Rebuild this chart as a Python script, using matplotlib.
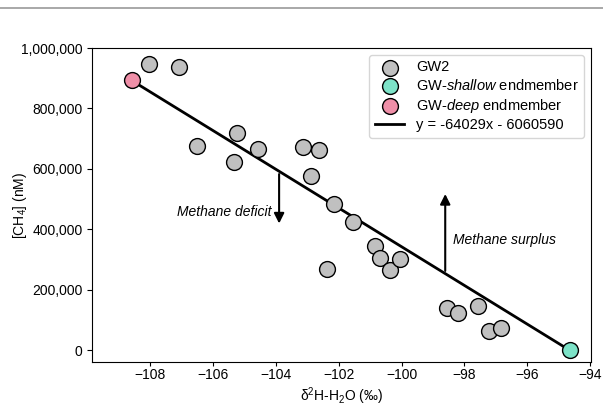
import matplotlib
matplotlib.use('Agg')
import matplotlib.pyplot as plt
from matplotlib.lines import Line2D
from matplotlib.ticker import FuncFormatter

plt.rcParams['font.family'] = ['Liberation Sans', 'DejaVu Sans']
plt.rcParams['font.size'] = 10
plt.rcParams['mathtext.fontset'] = 'custom'
plt.rcParams['mathtext.rm'] = 'Liberation Sans'
plt.rcParams['mathtext.it'] = 'Liberation Sans:italic'

# GW2 samples
gw2_d2h = [-108.03, -107.08, -106.50, -105.23, -105.33, -104.56, -103.13, -102.62,
           -102.88, -102.15, -101.54, -102.37, -100.84, -100.68, -100.37, -100.05,
           -98.55, -98.20, -97.56, -97.21, -96.83]
gw2_ch4 = [947000, 937000, 675000, 718000, 622000, 666000, 672000, 662000,
           576000, 483000, 424000, 268000, 344000, 305000, 265000, 301000,
           139000, 123000, 146000, 63000, 73000]

# endmembers
shallow_d2h, shallow_ch4 = [-94.65], [0]
deep_d2h, deep_ch4 = [-108.6], [893000]

slope, intercept = -64029, -6060590
fit_x = [deep_d2h[0], shallow_d2h[0]]
fit_y = [slope * v + intercept for v in fit_x]

fig, ax = plt.subplots(figsize=(6.03, 4.07), dpi=100)
fig.subplots_adjust(left=0.153, right=0.980, top=0.882, bottom=0.110)

ax.plot(fit_x, fit_y, color='black', lw=2, zorder=2, label='y = -64029x - 6060590')
ax.scatter(gw2_d2h, gw2_ch4, s=130, color='#c0c0c0', edgecolor='black', lw=1, zorder=3, label='GW2')
ax.scatter(shallow_d2h, shallow_ch4, s=130, color='#7de3c8', edgecolor='black', lw=1, zorder=3,
           label='GW-$\\it{shallow}$ endmember')
ax.scatter(deep_d2h, deep_ch4, s=130, color='#ef8fa8', edgecolor='black', lw=1, zorder=3,
           label='GW-$\\it{deep}$ endmember')

# deficit / surplus arrows
ax.annotate('', xy=(-103.9, 410000), xytext=(-103.9, 592000),
            arrowprops=dict(arrowstyle='-|>', color='black', lw=1.5, mutation_scale=15))
ax.text(-104.15, 457000, 'Methane deficit', style='italic', ha='right', va='center')
ax.annotate('', xy=(-98.61, 526000), xytext=(-98.61, 253000),
            arrowprops=dict(arrowstyle='-|>', color='black', lw=1.5, mutation_scale=15))
ax.text(-98.36, 364000, 'Methane surplus', style='italic', ha='left', va='center')

ax.set_xlim(-109.85, -93.97)
ax.set_ylim(-40000, 1000000)
ax.set_xticks([-108, -106, -104, -102, -100, -98, -96, -94])
ax.set_yticks([0, 200000, 400000, 600000, 800000, 1000000])
ax.yaxis.set_major_formatter(FuncFormatter(lambda v, p: f'{int(v):,}'))
ax.tick_params(axis='x', length=3, pad=1.5)
ax.tick_params(axis='y', length=3.5, pad=3.5)
ax.set_xlabel('δ$^2$H-H$_2$O (‰)', labelpad=2)
ax.set_ylabel('[CH$_4$] (nM)')
ax.yaxis.set_label_coords(-0.127, 0.5)

handles, labels = ax.get_legend_handles_labels()
order = [1, 2, 3, 0]
ax.legend([handles[i] for i in order], [labels[i] for i in order], loc='upper right',
          fontsize=10.5, handletextpad=0.8, borderpad=0.4, labelspacing=0.25, borderaxespad=0.45)

# grey rule at the top of the figure
fig.add_artist(Line2D([0, 1], [0.98, 0.98], color='#999999', lw=1.2, transform=fig.transFigure))

fig.savefig('out.png', dpi=100)
